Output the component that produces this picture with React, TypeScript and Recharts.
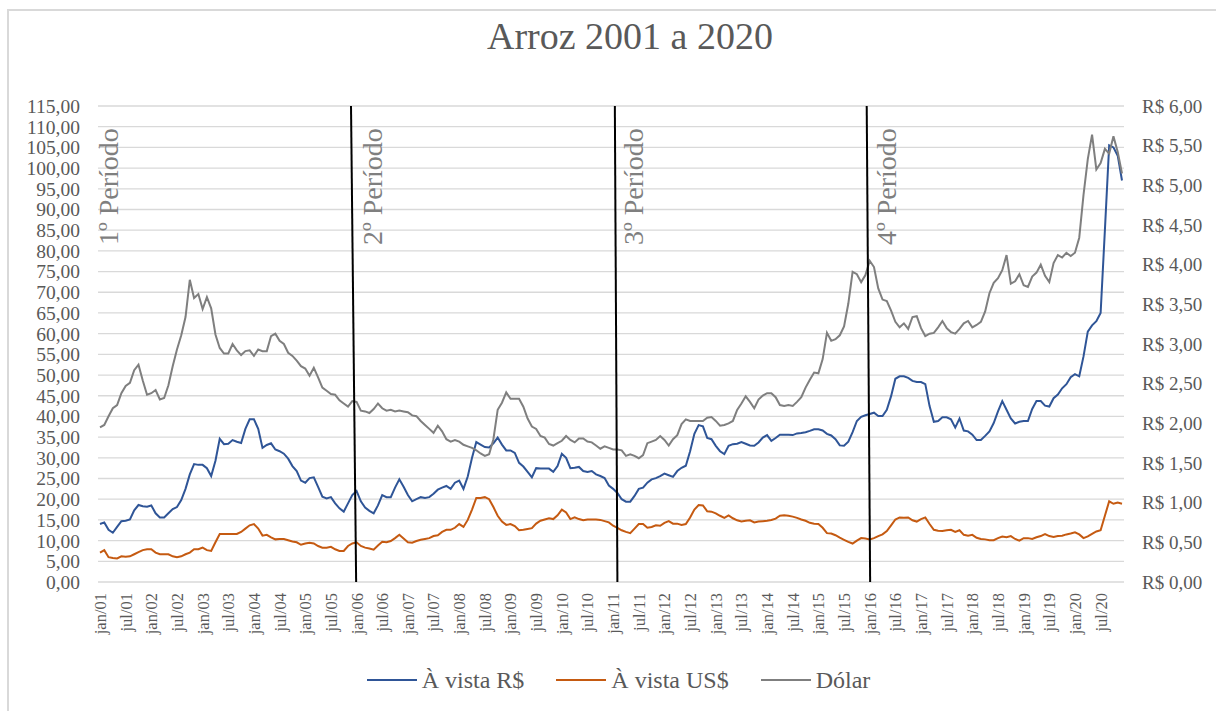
import React from 'react';
import { LineChart, Line, XAxis, YAxis, CartesianGrid, ReferenceLine, Legend } from 'recharts';

const FONT = "'Liberation Serif', 'Times New Roman', serif";
const TEXT = '#595959';

const MESES = ['jan', 'fev', 'mar', 'abr', 'mai', 'jun', 'jul', 'ago', 'set', 'out', 'nov', 'dez'];
const ANOS = ['01', '02', '03', '04', '05', '06', '07', '08', '09', '10',
    '11', '12', '13', '14', '15', '16', '17', '18', '19', '20'];

// Arroz, preço à vista (R$ / saca), jan/01 .. dez/20
const avistaReal = [
    14.0, 14.4, 12.6, 11.9, 13.3, 14.7, 14.8, 15.1, 17.3, 18.6, 18.3, 18.2,
    18.5, 16.6, 15.6, 15.6, 16.6, 17.6, 18.1, 19.8, 22.5, 26.0, 28.5, 28.3,
    28.3, 27.5, 25.6, 29.3, 34.6, 33.3, 33.4, 34.3, 33.9, 33.6, 37.0, 39.3,
    39.3, 37.0, 32.4, 33.1, 33.5, 32.0, 31.6, 31.0, 29.8, 28.0, 26.8, 24.5,
    24.0, 25.1, 25.3, 23.0, 20.6, 20.2, 20.5, 19.0, 17.8, 17.0, 19.0, 21.0,
    22.0, 19.5, 18.0, 17.2, 16.6, 18.5, 21.0, 20.5, 20.5, 22.8, 24.8, 23.0,
    21.0, 19.5, 20.0, 20.5, 20.3, 20.5, 21.3, 22.3, 22.8, 23.2, 22.5, 24.0,
    24.5, 22.5, 25.5, 30.0, 33.8, 33.2, 32.6, 32.5, 33.5, 34.9, 33.2, 31.8,
    31.8, 31.2, 28.8, 27.9, 26.6, 25.3, 27.5, 27.4, 27.4, 27.4, 26.6, 28.0,
    31.0, 30.0, 27.5, 27.6, 27.8, 26.8, 26.6, 26.8, 26.0, 25.6, 25.1, 23.3,
    22.5, 21.5, 20.0, 19.4, 19.4, 20.8, 22.5, 22.8, 24.0, 24.8, 25.1, 25.6,
    26.2, 25.8, 25.4, 26.8, 27.6, 28.1, 31.6, 35.8, 37.9, 37.6, 34.8, 34.5,
    32.9, 31.6, 30.9, 32.9, 33.3, 33.4, 33.8, 33.4, 33.0, 32.9, 33.7, 34.9,
    35.5, 34.1, 34.8, 35.6, 35.6, 35.6, 35.5, 35.9, 36.0, 36.2, 36.5, 36.9,
    36.9, 36.6, 35.8, 35.4, 34.5, 33.0, 32.9, 33.9, 36.2, 38.9, 39.9, 40.3,
    40.6, 40.9, 40.1, 40.1, 41.6, 44.9, 49.1, 49.7, 49.7, 49.3, 48.6, 48.3,
    48.3, 47.8, 42.5, 38.7, 38.9, 39.8, 39.8, 39.3, 37.3, 39.5, 36.6, 36.4,
    35.6, 34.3, 34.3, 35.3, 36.4, 38.4, 41.2, 43.7, 41.6, 39.5, 38.3, 38.7,
    38.9, 38.9, 41.8, 43.7, 43.7, 42.6, 42.4, 44.4, 45.3, 46.8, 47.8, 49.5,
    50.2, 49.7, 54.5, 60.5, 62.0, 63.0, 65.0, 85.0, 105.5, 105.0, 103.0, 97.0,
];

// Arroz, preço à vista (US$ / saca)
const avistaDolar = [
    7.1, 7.7, 6.0, 5.8, 5.7, 6.2, 6.1, 6.2, 6.7, 7.2, 7.7, 7.9,
    7.9, 7.1, 6.7, 6.7, 6.7, 6.2, 6.0, 6.2, 6.7, 7.1, 7.9, 7.9,
    8.3, 7.7, 7.5, 9.6, 11.6, 11.6, 11.6, 11.6, 11.6, 12.1, 12.9, 13.7,
    14.0, 12.9, 11.2, 11.4, 10.8, 10.3, 10.4, 10.4, 10.1, 9.8, 9.6, 9.0,
    9.3, 9.5, 9.3, 8.7, 8.3, 8.3, 8.5, 7.9, 7.5, 7.5, 8.7, 9.3,
    9.6, 8.7, 8.3, 8.1, 7.8, 8.8, 9.7, 9.6, 9.9, 10.6, 11.4, 10.5,
    9.6, 9.5, 9.9, 10.2, 10.4, 10.6, 11.1, 11.3, 12.1, 12.6, 12.6, 13.1,
    14.0, 13.3, 15.0, 17.5, 20.3, 20.3, 20.5, 20.0, 18.1, 16.0, 14.6, 13.8,
    14.0, 13.5, 12.5, 12.6, 12.8, 13.0, 14.1, 14.8, 15.1, 15.4, 15.2, 16.1,
    17.5, 16.8, 15.2, 15.6, 15.2, 14.9, 15.1, 15.1, 15.1, 15.0, 14.7, 14.4,
    13.6, 13.1, 12.5, 12.1, 11.8, 12.9, 14.0, 14.0, 13.1, 13.3, 13.7, 13.6,
    14.3, 14.7, 14.1, 14.1, 13.8, 14.0, 15.6, 17.5, 18.6, 18.5, 17.1, 17.0,
    16.6, 16.0, 15.5, 16.1, 15.4, 14.9, 14.6, 14.8, 14.9, 14.4, 14.6, 14.7,
    14.8, 15.0, 15.3, 16.0, 16.1, 16.0, 15.8, 15.5, 15.1, 14.8, 14.3, 14.1,
    14.0, 13.1, 11.8, 11.7, 11.3, 10.7, 10.2, 9.7, 9.3, 10.0, 10.6, 10.5,
    10.3, 10.6, 11.1, 11.5, 12.3, 13.7, 15.1, 15.6, 15.5, 15.6, 14.9, 14.6,
    15.2, 15.6, 14.0, 12.6, 12.4, 12.3, 12.5, 12.6, 12.1, 12.5, 11.4, 11.2,
    11.4, 10.7, 10.4, 10.3, 10.1, 10.1, 10.6, 11.0, 10.8, 11.1, 10.4, 10.0,
    10.6, 10.6, 10.4, 10.8, 11.1, 11.6, 11.1, 10.9, 11.1, 11.2, 11.5, 11.7,
    12.0, 11.5, 10.6, 11.0, 11.6, 12.2, 12.5, 16.0, 19.5, 18.9, 19.2, 18.9,
];

// Dólar (R$), eixo direito
const dolar = [
    1.95, 1.98, 2.09, 2.19, 2.23, 2.38, 2.47, 2.51, 2.67, 2.74, 2.54, 2.36,
    2.38, 2.42, 2.30, 2.32, 2.48, 2.72, 2.93, 3.11, 3.34, 3.81, 3.58, 3.63,
    3.44, 3.59, 3.45, 3.12, 2.95, 2.88, 2.88, 3.00, 2.92, 2.86, 2.91, 2.92,
    2.85, 2.93, 2.91, 2.91, 3.10, 3.13, 3.04, 3.00, 2.89, 2.85, 2.79, 2.72,
    2.69, 2.60, 2.70, 2.58, 2.45, 2.41, 2.37, 2.36, 2.29, 2.25, 2.21, 2.28,
    2.27, 2.16, 2.15, 2.13, 2.18, 2.25, 2.19, 2.16, 2.17, 2.15, 2.16, 2.15,
    2.14, 2.10, 2.09, 2.03, 1.98, 1.93, 1.88, 1.97, 1.90, 1.80, 1.77, 1.79,
    1.77, 1.73, 1.71, 1.69, 1.66, 1.62, 1.59, 1.61, 1.80, 2.17, 2.26, 2.39,
    2.31, 2.31, 2.31, 2.21, 2.06, 1.96, 1.93, 1.84, 1.82, 1.74, 1.72, 1.75,
    1.78, 1.84, 1.79, 1.76, 1.81, 1.81, 1.77, 1.76, 1.72, 1.68, 1.71, 1.69,
    1.67, 1.67, 1.66, 1.59, 1.61, 1.59, 1.56, 1.60, 1.75, 1.77, 1.79, 1.84,
    1.79, 1.72, 1.80, 1.85, 1.99, 2.05, 2.03, 2.03, 2.03, 2.03, 2.07, 2.08,
    2.03, 1.97, 1.98, 2.00, 2.03, 2.17, 2.25, 2.34, 2.27, 2.19, 2.30, 2.35,
    2.38, 2.38, 2.33, 2.23, 2.22, 2.23, 2.22, 2.27, 2.33, 2.45, 2.55, 2.64,
    2.63, 2.81, 3.14, 3.04, 3.06, 3.11, 3.22, 3.51, 3.91, 3.88, 3.78, 3.87,
    4.05, 3.97, 3.70, 3.56, 3.54, 3.42, 3.28, 3.21, 3.26, 3.19, 3.34, 3.35,
    3.20, 3.10, 3.13, 3.14, 3.21, 3.29, 3.20, 3.15, 3.13, 3.19, 3.26, 3.29,
    3.21, 3.24, 3.28, 3.41, 3.64, 3.77, 3.83, 3.93, 4.12, 3.76, 3.79, 3.88,
    3.74, 3.72, 3.85, 3.90, 4.00, 3.86, 3.78, 4.02, 4.12, 4.09, 4.15, 4.11,
    4.15, 4.34, 4.88, 5.33, 5.64, 5.20, 5.28, 5.46, 5.40, 5.62, 5.42, 5.15,
];

const LEFT_TICKS = [0, 5, 10, 15, 20, 25, 30, 35, 40, 45, 50, 55, 60, 65, 70, 75, 80, 85, 90, 95, 100, 105, 110, 115];
const RIGHT_TICKS = [0, 0.5, 1, 1.5, 2, 2.5, 3, 3.5, 4, 4.5, 5, 5.5, 6];

// marcos dos períodos (posição no eixo dos meses; linha levemente inclinada como no original)
const PERIODOS = [
    { nome: '1º Período', topo: null, base: 0 },
    { nome: '2º Período', topo: 58.7, base: 59.9 },
    { nome: '3º Período', topo: 120.4, base: 121.0 },
    { nome: '4º Período', topo: 179.3, base: 180.1 },
];

const SERIES = [
    { key: 'real', nome: 'À vista R$', cor: '#2f5597', eixo: 'left' },
    { key: 'us', nome: 'À vista US$', cor: '#c55a11', eixo: 'left' },
    { key: 'dolar', nome: 'Dólar', cor: '#7f7f7f', eixo: 'right' },
];

const rotulos: string[] = [];
ANOS.forEach(a => MESES.forEach(m => rotulos.push(`${m}/${a}`)));

const data = rotulos.map((mes, i) => ({
    i,
    mes,
    real: avistaReal[i],
    us: avistaDolar[i],
    dolar: dolar[i],
}));

const xTicks = data.filter(d => d.mes.startsWith('jan') || d.mes.startsWith('jul')).map(d => d.i);

const fmt = (v: number) => v.toFixed(2).replace('.', ',');

const XTick = (props: any) => {
    const { x, y, payload } = props;
    return (
        <text x={x} y={y} dy="0.36em" transform={`rotate(-90, ${x}, ${y})`} textAnchor="end"
            fill={TEXT} fontSize={16.5} fontFamily={FONT}>
            {rotulos[payload.value]}
        </text>
    );
};

const periodLabel = (nome: string, dx: number) => (props: any) => {
    const vb = props.viewBox || {};
    const x = vb.x + dx;
    const y = vb.y + 139;
    return (
        <text x={x} y={y} transform={`rotate(-90, ${x}, ${y})`} fill="#7f7f7f"
            fontSize={28} fontFamily={FONT}>
            {nome}
        </text>
    );
};

const Legenda = () => (
    <div style={{
        display: 'flex', justifyContent: 'center', alignItems: 'center', height: 32,
        paddingLeft: 21, boxSizing: 'border-box', fontFamily: FONT, fontSize: 24, color: TEXT,
    }}>
        {SERIES.map((s, idx) => (
            <span key={s.key} style={{ display: 'flex', alignItems: 'center', marginRight: idx < SERIES.length - 1 ? 32 : 0 }}>
                <span style={{ display: 'inline-block', width: 50, height: 2, background: s.cor, marginRight: 5 }} />
                {s.nome}
            </span>
        ))}
    </div>
);

export default function App() {
    return (
        <div style={{ position: 'absolute', left: 0, top: 0, width: 1216, height: 711, overflow: 'hidden', background: '#fff' }}>
            <div style={{ position: 'absolute', left: 7, top: 9, width: 1400, height: 900, border: '2px solid #d9d9d9', boxSizing: 'border-box' }} />
            <div style={{
                position: 'absolute', left: 0, top: 16.5, width: 1260, textAlign: 'center',
                fontFamily: FONT, fontSize: 38, lineHeight: '38px', color: TEXT,
            }}>
                Arroz 2001 a 2020
            </div>
            <div style={{ position: 'absolute', left: 0, top: 0 }}>
                <LineChart width={1216} height={711} data={data} margin={{ top: 106, right: 0, bottom: 15, left: 0 }}>
                    <CartesianGrid yAxisId="left" vertical={false} stroke="#d9d9d9" strokeWidth={1.3} />
                    <XAxis dataKey="i" type="number" domain={[0, 239]} ticks={xTicks} interval={0}
                        padding={{ left: 2, right: 2 }} height={82} axisLine={false} tickLine={false}
                        tickSize={0} tickMargin={11} tick={<XTick />} />
                    <YAxis yAxisId="left" domain={[0, 115]} ticks={LEFT_TICKS} interval={0} width={98}
                        axisLine={false} tickLine={false} tickMargin={12} tickFormatter={fmt}
                        tick={{ fill: TEXT, fontSize: 19.5, fontFamily: FONT }} />
                    <YAxis yAxisId="right" orientation="right" domain={[0, 6]} ticks={RIGHT_TICKS} interval={0} width={92}
                        axisLine={false} tickLine={false} tickMargin={12} tickFormatter={(v: number) => `R$ ${fmt(v)}`}
                        tick={{ fill: TEXT, fontSize: 19, fontFamily: FONT }} />
                    {SERIES.map(s => (
                        <Line key={s.key} yAxisId={s.eixo} dataKey={s.key} name={s.nome} type="linear"
                            stroke={s.cor} strokeWidth={2} dot={false} activeDot={false} isAnimationActive={false} />
                    ))}
                    {PERIODOS.filter(p => p.topo !== null).map(p => (
                        <ReferenceLine key={`l-${p.nome}`} yAxisId="left" stroke="#000" strokeWidth={2}
                            segment={[{ x: p.topo as number, y: 115 }, { x: p.base, y: 0 }]} />
                    ))}
                    {PERIODOS.map(p => (
                        <ReferenceLine key={`t-${p.nome}`} yAxisId="left" x={p.base} stroke="none"
                            label={periodLabel(p.nome, p.topo === null ? 18 : 26)} />
                    ))}
                    <Legend verticalAlign="bottom" content={<Legenda />} />
                </LineChart>
            </div>
        </div>
    );
}
